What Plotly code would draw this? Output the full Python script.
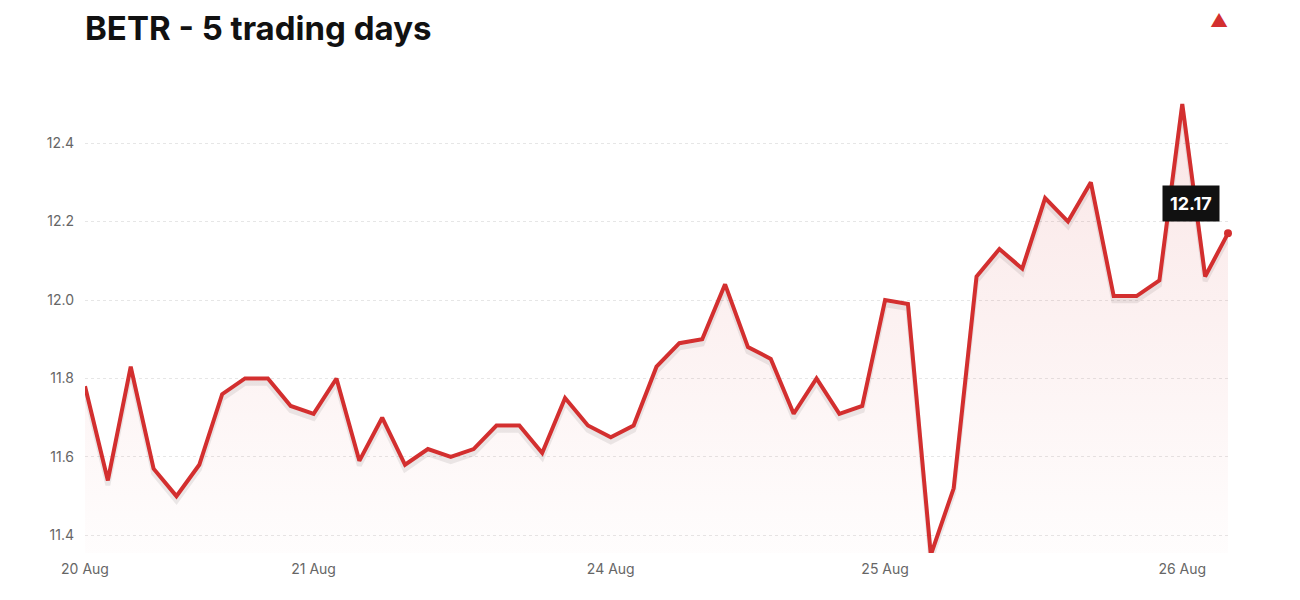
import plotly.graph_objects as go

prices = [11.78,11.54,11.83,11.57,11.50,11.58,11.76,11.80,11.80,11.73,11.71,11.80,11.59,11.70,11.58,11.62,11.60,11.62,11.68,11.68,11.61,11.75,11.68,11.65,11.68,11.83,11.89,11.90,12.04,11.88,11.85,11.71,11.80,11.71,11.73,12.00,11.99,11.35,11.52,12.06,12.13,12.08,12.26,12.20,12.30,12.01,12.01,12.05,12.50,12.06,12.17]
tick_pos = [0, 10, 23, 35, 48]
tick_labels = ["20 Aug", "21 Aug", "24 Aug", "25 Aug", "26 Aug"]
y_ticks = [11.4, 11.6, 11.8, 12.0, 12.2, 12.4]
last_label = "12.17"
title = "BETR - 5 trading days"
red = "#d32f2f"

x = list(range(len(prices)))
fig = go.Figure()
fig.add_trace(go.Scatter(x=x, y=[p - 0.012 for p in prices], mode="lines",
    line=dict(color="rgba(0,0,0,0.08)", width=5), hoverinfo="skip", showlegend=False))
fig.add_trace(go.Scatter(x=x, y=prices, mode="lines", line=dict(color=red, width=4),
    fill="tozeroy",
    fillgradient=dict(type="vertical", colorscale=[[0, "rgba(211,47,47,0)"], [0.9, "rgba(211,47,47,0.0)"], [1, "rgba(211,47,47,0.12)"]]),
    showlegend=False))
fig.add_trace(go.Scatter(x=[x[-1]], y=[prices[-1]], mode="markers",
    marker=dict(color=red, size=8), showlegend=False, cliponaxis=False))

L, R, T, B = 77, 80, 92, 55
PH = 600 - T - B
PW = 1300 - L - R
fig.update_layout(
    width=1300, height=600, plot_bgcolor="white", paper_bgcolor="white",
    margin=dict(l=L, r=R, t=T, b=B),
    font=dict(family="Inter, Roboto, sans-serif", color="#666", size=14),
    title=dict(text="<b>" + title + "</b>", x=77/1300, xanchor="left", y=1 - 20/600, yanchor="middle",
               font=dict(size=33, color="#111")),
    xaxis=dict(range=[0, len(prices) - 1], tickvals=tick_pos, ticktext=tick_labels,
               showgrid=False, zeroline=False, showline=False, ticks="", ticklabelstandoff=6),
    yaxis=dict(range=[11.355, 12.51], tickvals=y_ticks, tickformat=".1f", showgrid=True,
               gridcolor="#e6e6e6", griddash="dot", zeroline=False, ticks="", ticklabelstandoff=10),
    annotations=[
        dict(x=x[-1] - 1.6, y=prices[-1] + 0.075, text="<b>" + last_label + "</b>", showarrow=False,
             bgcolor="#111", font=dict(color="white", size=18), borderpad=7),
        dict(x=(1222 - L) / PW, y=1 + (T - 12) / PH, xref="paper", yref="paper", text="▲",
             showarrow=False, font=dict(color=red, size=18), yanchor="middle"),
    ],
)
fig.write_html("out.html")
